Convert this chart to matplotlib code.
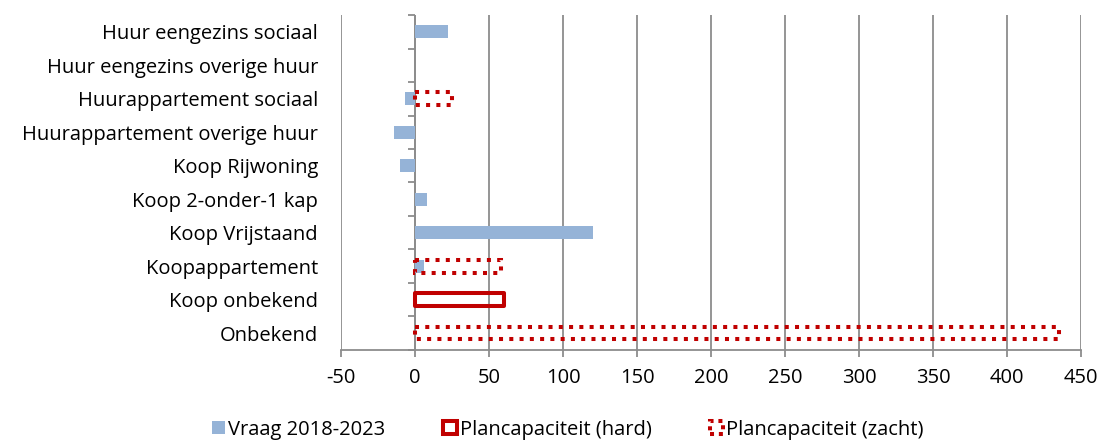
import matplotlib
matplotlib.use("Agg")
from matplotlib import pyplot as plt
from matplotlib.patches import Patch
import numpy as np

plt.rcParams['font.family'] = ['Open Sans', 'DejaVu Sans']

categories = ['Huur eengezins sociaal', 'Huur eengezins overige huur',
              'Huurappartement sociaal', 'Huurappartement overige huur',
              'Koop Rijwoning', 'Koop 2-onder-1 kap', 'Koop Vrijstaand',
              'Koopappartement', 'Koop onbekend', 'Onbekend']
vraag = [22, 0, -7, -14, -10, 8, 120, 6, 0, 0]
plan_hard = [0, 0, 0, 0, 0, 0, 0, 0, 60, 0]
plan_zacht = [0, 0, 25, 0, 0, 0, 0, 58, 0, 435]
xticks = np.arange(-50, 451, 50)

blue = '#95B3D7'
red = '#C00000'
grey = '#8C8C8C'
fs = 14.5

fig = plt.figure(figsize=(11.02, 4.44), dpi=100)
ax = fig.add_axes([0.3094, 0.212, 0.6716, 0.754])
y = np.arange(len(categories))

ax.barh(y, vraag, height=0.38, color=blue, zorder=3)
for yi, v in zip(y, plan_hard):
    if v:
        ax.barh(yi, v, height=0.38, facecolor='none', edgecolor=red,
                linewidth=2.9, joinstyle='round', zorder=4)
for yi, v in zip(y, plan_zacht):
    if v:
        ax.barh(yi, v, height=0.38, facecolor='none', edgecolor=red,
                linewidth=2.9, linestyle=(0, (1, 1.55)), capstyle='butt', zorder=4)

ax.set_xlim(-50, 450)
ax.set_ylim(len(categories) - 0.5, -0.5)
ax.set_xticks(xticks)
ax.set_xticklabels([str(t) for t in xticks], fontsize=fs)
ax.set_yticks(y)
ax.set_yticklabels(categories, fontsize=fs)
ax.tick_params(axis='y', length=0, pad=16.5)
ax.tick_params(axis='x', length=5, width=1.3, color=grey, pad=8)
ax.grid(axis='x', color=grey, linewidth=1.3, zorder=0)
for s in ['top', 'right', 'left']:
    ax.spines[s].set_visible(False)
ax.spines['bottom'].set_color(grey)
ax.spines['bottom'].set_linewidth(1.3)

# category axis at x = 0 with tick marks between categories
ax.axvline(0, color=grey, linewidth=1.3, zorder=2)
bounds = np.arange(-0.5, len(categories), 1.0)
ax.hlines(bounds, -4.7, 0, color=grey, linewidth=1.3, zorder=2, clip_on=False)

handles = [Patch(facecolor=blue, edgecolor='none'),
           Patch(facecolor='none', edgecolor=red, linewidth=2.9),
           Patch(facecolor='none', edgecolor=red, linewidth=2.9,
                 linestyle=(0, (1, 1.2)))]
labels = ['Vraag 2018-2023', 'Plancapaciteit (hard)', 'Plancapaciteit (zacht)']
fig.legend(handles, labels, loc='center', bbox_to_anchor=(0.515, 0.032), ncol=3,
           frameon=False, fontsize=fs, handlelength=0.65, handleheight=0.65,
           handletextpad=0.15, columnspacing=2.9)

fig.savefig('out.png', dpi=100)
